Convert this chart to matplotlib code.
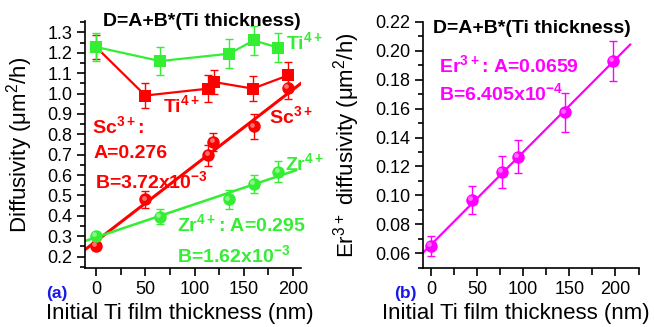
import matplotlib
matplotlib.use("Agg")
import numpy as np
from matplotlib import pyplot as plt
from matplotlib import transforms
from matplotlib.colors import to_rgb
from matplotlib.ticker import MultipleLocator, FormatStrFormatter


# Fonts: Arial-like text, superscripts in the same font as the text.
plt.rcParams["font.family"] = ["Liberation Sans", "DejaVu Sans"]
plt.rcParams["mathtext.default"] = "regular"

RED = "#ff0000"
GREEN = "#33ee33"
MAGENTA = "#ff00ff"
BLUE = "#1a1ae6"

# Panel (a): Ti4+ diffusivity (squares) measured with Zr and with Sc.
ti_zr_x = [0, 65, 135, 160, 185]
ti_zr_y = [1.228, 1.159, 1.195, 1.260, 1.225]
ti_zr_err = [0.07, 0.07, 0.07, 0.07, 0.07]
ti_sc_x = [0, 50, 114, 120, 159, 195]
ti_sc_y = [1.228, 0.990, 1.024, 1.056, 1.024, 1.089]
ti_sc_err = [0.06, 0.063, 0.065, 0.06, 0.063, 0.065]

# Panel (a): Sc3+ and Zr4+ diffusivity (circles) and their linear fits.
sc_x = [0, 50, 114, 119, 160, 195]
sc_y = [0.252, 0.481, 0.697, 0.762, 0.839, 1.029]
sc_err = [0.02, 0.043, 0.05, 0.045, 0.06, 0.055]
zr_x = [0, 65, 135, 160, 185]
zr_y = [0.301, 0.396, 0.481, 0.556, 0.617]
zr_err = [0.02, 0.038, 0.045, 0.045, 0.05]
sc_fit = (0.276, 3.72e-3)
zr_fit = (0.295, 1.62e-3)
sc_fit_range = [-10, 210]
zr_fit_range = [-10, 203]

# Panel (b): Er3+ diffusivity and linear fit.
er_x = [0, 44, 77, 94, 145, 197]
er_y = [0.065, 0.0968, 0.1164, 0.1267, 0.1574, 0.193]
er_err = [0.0066, 0.010, 0.011, 0.0115, 0.0136, 0.014]
er_fit = (0.0659, 6.405e-4)
er_fit_range = [-9, 216]


def lighten(color: str, amount: float) -> tuple:
    """
    Mix a colour with white.
    :param color: The base colour.
    :param amount: How much white to mix in (0..1).
    :return: The lighter RGB tuple.
    """
    r, g, b = to_rgb(color)
    return (r + (1 - r) * amount, g + (1 - g) * amount, b + (1 - b) * amount)


def spheres(ax, x, y, err, color, size=9.0) -> None:
    """
    Draw shaded circle markers with error bars.
    """
    ax.errorbar(x, y, yerr=err, fmt="none", ecolor=color, elinewidth=1.0, capsize=3, capthick=1.0, zorder=3)
    ax.plot(x, y, "o", color=color, markersize=size, markeredgewidth=0, zorder=4)
    # Small light spot up-left to give the 3D look.
    shift = transforms.offset_copy(ax.transData, fig=ax.figure, x=-1.3, y=1.3, units="points")
    ax.plot(x, y, "o", color=lighten(color, 0.55), markersize=size * 0.38, markeredgewidth=0,
            alpha=0.8, transform=shift, zorder=5)


def squares(ax, x, y, err, color) -> None:
    """
    Draw square markers joined by a line with error bars.
    """
    ax.errorbar(x, y, yerr=err, fmt="none", ecolor=color, elinewidth=1.0, capsize=3, capthick=1.0, zorder=3)
    ax.plot(x, y, "-", color=color, linewidth=1.6, zorder=2)
    ax.plot(x, y, "s", color=color, markersize=9, markeredgewidth=0, zorder=4)


def fit_line(ax, fit, xr, color, lw) -> None:
    """
    Draw the line D = A + B * thickness over a range.
    """
    xs = np.array(xr, dtype=float)
    ax.plot(xs, fit[0] + fit[1] * xs, "-", color=color, linewidth=lw, zorder=2)


def style_axes(ax, ymajor, yminor, label_x) -> None:
    """
    Origin-like axes: left and bottom spines, outward ticks.
    """
    for side in ("top", "right"):
        ax.spines[side].set_visible(False)
    for side in ("left", "bottom"):
        ax.spines[side].set_linewidth(1.2)
    ax.xaxis.set_major_locator(MultipleLocator(50))
    ax.xaxis.set_minor_locator(MultipleLocator(25))
    ax.yaxis.set_major_locator(MultipleLocator(ymajor))
    ax.yaxis.set_minor_locator(MultipleLocator(yminor))
    ax.tick_params(which="major", direction="out", length=6, width=1.2, labelsize=13, pad=3)
    ax.tick_params(axis="x", which="minor", direction="out", length=5, width=1.2)
    ax.tick_params(axis="y", which="minor", direction="out", length=3.5, width=1.2)
    ax.set_xlabel("Initial Ti film thickness (nm)", fontsize=16)
    ax.xaxis.set_label_coords(label_x, -0.142)


fig = plt.figure(figsize=(6.54, 3.27), dpi=100)

# ---- Panel (a) ----
ax1 = fig.add_axes([0.130, 0.1795, 0.331, 0.756])
squares(ax1, ti_sc_x, ti_sc_y, ti_sc_err, RED)
squares(ax1, ti_zr_x, ti_zr_y, ti_zr_err, GREEN)
fit_line(ax1, sc_fit, sc_fit_range, RED, 2.2)
fit_line(ax1, zr_fit, zr_fit_range, GREEN, 1.8)
spheres(ax1, sc_x, sc_y, sc_err, RED)
spheres(ax1, zr_x, zr_y, zr_err, GREEN)
ax1.set_xlim(-11.2, 208.5)
ax1.set_ylim(0.143, 1.355)
style_axes(ax1, 0.1, 0.05, 0.437)
ax1.yaxis.set_major_formatter(FormatStrFormatter("%.1f"))
ax1.set_ylabel("Diffusivity (μm$^2$/h)", fontsize=16)
ax1.yaxis.set_label_coords(-0.231, 0.5)

ax1.text(0.538, 0.980, "D=A+B*(Ti thickness)", transform=ax1.transAxes, ha="center", va="baseline",
         fontsize=14, fontweight="bold", color="black")
bold = dict(fontsize=14, fontweight="bold", ha="left", va="baseline")
ax1.text(193, 1.22, "Ti$^{4+}$", color=GREEN, **bold)
ax1.text(68, 0.908, "Ti$^{4+}$", color=RED, **bold)
ax1.text(175.6, 0.854, "Sc$^{3+}$", color=RED, **bold)
ax1.text(-4, 0.805, "Sc$^{3+}$:", color=RED, **bold)
ax1.text(-3, 0.682, "A=0.276", color=RED, **bold)
ax1.text(-1, 0.537, "B=3.72x10$^{-3}$", color=RED, **bold)
ax1.text(191.6, 0.624, "Zr$^{4+}$", color=GREEN, **bold)
ax1.text(82, 0.323, "Zr$^{4+}$: A=0.295", color=GREEN, **bold)
ax1.text(82, 0.175, "B=1.62x10$^{-3}$", color=GREEN, **bold)

# ---- Panel (b) ----
ax2 = fig.add_axes([0.6463, 0.1795, 0.330, 0.754])
fit_line(ax2, er_fit, er_fit_range, MAGENTA, 1.6)
spheres(ax2, er_x, er_y, er_err, MAGENTA)
ax2.set_xlim(-9, 225)
ax2.set_ylim(0.0496, 0.22)
style_axes(ax2, 0.02, 0.01, 0.432)
ax2.yaxis.set_major_formatter(FormatStrFormatter("%.2f"))
ax2.set_ylabel("Er$^{3+}$ diffusivity (μm$^2$/h)", fontsize=16)
ax2.yaxis.set_label_coords(-0.281, 0.5)

ax2.text(0.504, 0.954, "D=A+B*(Ti thickness)", transform=ax2.transAxes, ha="center", va="baseline",
         fontsize=14, fontweight="bold", color="black")
ax2.text(8.6, 0.1855, "Er$^{3+}$: A=0.0659", color=MAGENTA, **bold)
ax2.text(8.6, 0.166, "B=6.405x10$^{-4}$", color=MAGENTA, **bold)

# Panel letters, on the tick-label row.
fig.text(57 / 654, 1 - 298 / 327, "(a)", color=BLUE, fontsize=12.5, fontweight="bold", ha="center", va="baseline")
fig.text(405.5 / 654, 1 - 298 / 327, "(b)", color=BLUE, fontsize=12.5, fontweight="bold", ha="center", va="baseline")

fig.savefig("out.png", dpi=100)
plt.close(fig)
